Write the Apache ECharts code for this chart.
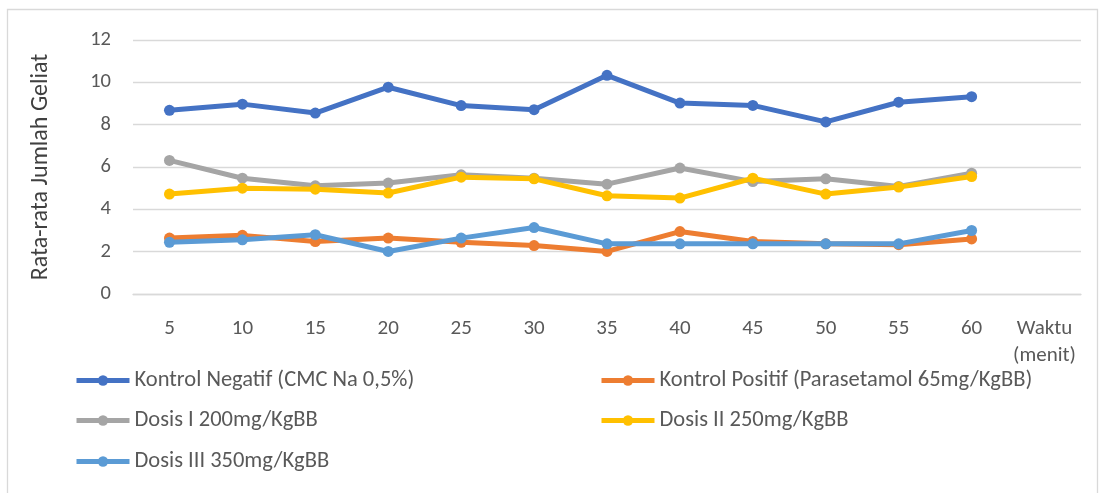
<!DOCTYPE html>
<html>
<head>
<meta charset="utf-8">
<script src="https://cdn.jsdelivr.net/npm/echarts@6/dist/echarts.min.js"></script>
<style>
html,body{margin:0;padding:0;background:#fff;}
#c{width:1102px;height:493px;}
</style>
</head>
<body>
<div id="c"></div>
<script>
const categories = ['5','10','15','20','25','30','35','40','45','50','55','60','Waktu\n(menit)'];
const kontrolNegatif = [8.68, 8.97, 8.55, 9.77, 8.90, 8.71, 10.33, 9.02, 8.91, 8.13, 9.06, 9.32];
const kontrolPositif = [2.64, 2.77, 2.48, 2.64, 2.44, 2.29, 2.01, 2.95, 2.48, 2.37, 2.33, 2.60];
const dosis1 = [6.31, 5.47, 5.11, 5.24, 5.63, 5.47, 5.19, 5.95, 5.31, 5.44, 5.08, 5.71];
const dosis2 = [4.72, 5.00, 4.95, 4.77, 5.52, 5.44, 4.64, 4.53, 5.47, 4.72, 5.05, 5.55];
const dosis3 = [2.44, 2.56, 2.80, 2.01, 2.64, 3.14, 2.37, 2.37, 2.37, 2.37, 2.37, 3.00];
const seriesNames = ['Kontrol Negatif (CMC Na 0,5%)','Kontrol Positif (Parasetamol 65mg/KgBB)','Dosis I 200mg/KgBB','Dosis II 250mg/KgBB','Dosis III 350mg/KgBB'];
const colors = ['#4472C4','#ED7D31','#A5A5A5','#FFC000','#5B9BD5'];
const seriesData = [kontrolNegatif, kontrolPositif, dosis1, dosis2, dosis3];
const yTicks = {min:0, max:12, interval:2};

const FONT = 'Carlito, Lato, "Open Sans", sans-serif';
const chart = echarts.init(document.getElementById('c'));
const legendPos = [[74,369],[599,369],[74,409],[599,409],[74,450]];
const legends = seriesNames.map((n,i)=>({
  data:[n], left:legendPos[i][0], top:legendPos[i][1], padding:0, itemWidth:53, itemHeight:13, itemGap:4,
  lineStyle:{width:5}, textStyle:{fontFamily:FONT, fontSize:22.5, color:'#595959'}, selectedMode:false
}));
chart.setOption({
  animation:false,
  color:colors,
  graphic:[{type:'rect', shape:{x:7.5,y:9.5,width:1090,height:500}, style:{fill:null, stroke:'#D9D9D9', lineWidth:1.3}, silent:true}],
  grid:{left:133, right:21, top:40, bottom:199, containLabel:false},
  legend:legends,
  xAxis:{type:'category', data:categories, boundaryGap:true,
    axisLine:{lineStyle:{color:'#D9D9D9', width:1.3}}, axisTick:{show:false},
    axisLabel:{fontFamily:FONT, fontSize:21, color:'#595959', margin:21, lineHeight:27, interval:0}},
  yAxis:{type:'value', min:yTicks.min, max:yTicks.max, interval:yTicks.interval,
    name:'Rata-rata Jumlah Geliat', nameLocation:'middle', nameGap:80, nameRotate:90,
    nameTextStyle:{fontFamily:FONT, fontSize:24, color:'#404040'},
    axisLine:{show:false}, axisTick:{show:false},
    axisLabel:{fontFamily:FONT, fontSize:20.5, color:'#595959', margin:22},
    splitLine:{lineStyle:{color:'#D9D9D9', width:1.3}}},
  series:seriesData.map((d,i)=>({
    name:seriesNames[i], type:'line', data:d, symbol:'circle', symbolSize:11,
    lineStyle:{width:5, color:colors[i]}, itemStyle:{color:colors[i]}, z:2+i
  }))
});
</script>
</body>
</html>
